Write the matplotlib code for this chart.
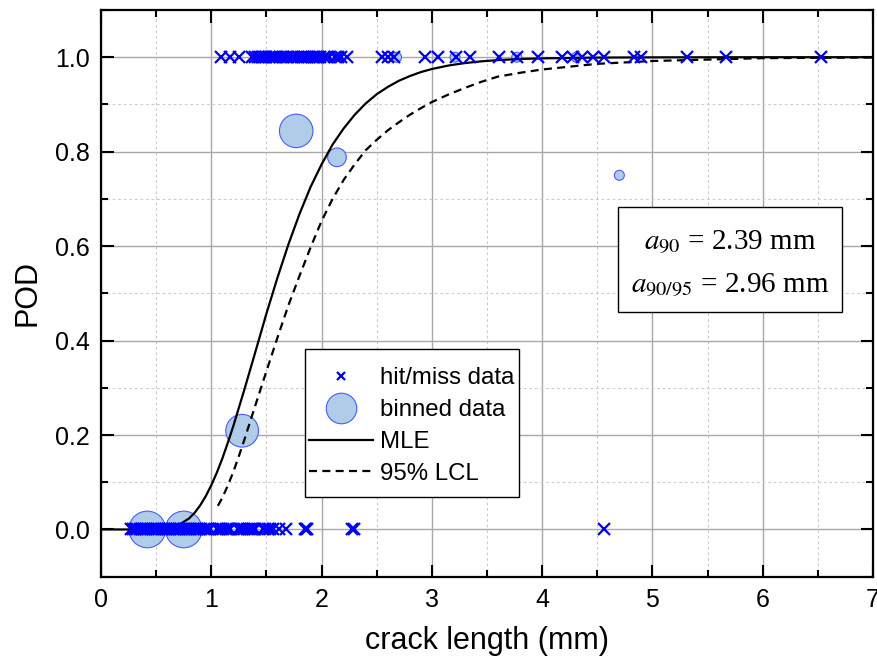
import numpy as np
import matplotlib
matplotlib.use("Agg")
import matplotlib.pyplot as plt
from matplotlib.ticker import MultipleLocator
from matplotlib.lines import Line2D
from matplotlib.patches import Rectangle

plt.rcParams['font.family'] = ['Liberation Sans', 'DejaVu Sans']
plt.rcParams['mathtext.fontset'] = 'stix'

# hit/miss data (crack length in mm)
hits = [1.09, 1.17, 1.25, 1.37, 1.40, 1.42, 1.44, 1.46, 1.48, 1.50, 1.52, 1.55,
        1.57, 1.59, 1.62, 1.65, 1.68, 1.70, 1.73, 1.75, 1.79, 1.81, 1.83, 1.85,
        1.87, 1.89, 1.91, 1.93, 1.95, 1.97, 1.99, 2.02, 2.05, 2.07, 2.12, 2.15,
        2.18, 2.23, 2.55, 2.60, 2.66, 2.94, 3.06, 3.22, 3.35, 3.61, 3.77, 3.96,
        4.18, 4.28, 4.36, 4.46, 4.56, 4.83, 4.90, 5.31, 5.67, 6.53]
misses = [0.27, 0.29, 0.31, 0.33, 0.35, 0.37, 0.39, 0.41, 0.43, 0.45, 0.47, 0.49,
          0.51, 0.53, 0.55, 0.57, 0.59, 0.61, 0.63, 0.65, 0.67, 0.69, 0.71, 0.73,
          0.75, 0.77, 0.79, 0.81, 0.83, 0.85, 0.87, 0.89, 0.91, 0.93, 0.95, 0.97,
          0.99, 1.05, 1.07, 1.09, 1.11, 1.13, 1.15, 1.17, 1.24, 1.26, 1.28, 1.30,
          1.32, 1.34, 1.36, 1.38, 1.40, 1.47, 1.49, 1.51, 1.53, 1.56, 1.61, 1.68,
          1.85, 1.86, 1.87, 2.28, 2.29, 4.56]

# binned data
bin_a = [0.42, 0.75, 1.28, 1.77, 2.14, 2.68, 3.21, 3.77, 4.31, 4.70]
bin_pod = [0.0, 0.0, 0.209, 0.844, 0.788, 1.0, 1.0, 1.0, 1.0, 0.75]
bin_n = [54, 54, 43, 45, 14, 4, 4, 4, 4, 4]

# MLE curve
mle_a = [0.0, 0.3, 0.5, 0.6, 0.7, 0.8, 0.85, 0.9, 0.95, 1.0, 1.05, 1.1, 1.15,
         1.2, 1.3, 1.4, 1.5, 1.6, 1.7, 1.8, 1.9, 2.0, 2.1, 2.2, 2.3, 2.4, 2.5,
         2.6, 2.7, 2.8, 2.9, 3.0, 3.15, 3.3, 3.45, 3.6, 3.8, 4.0, 4.5, 5.0,
         6.0, 7.0]
mle_pod = [0.0, 0.0, 0.0004, 0.0022, 0.0085, 0.0236, 0.0356, 0.0512, 0.0705,
           0.0936, 0.120, 0.150, 0.1835, 0.219, 0.296, 0.376, 0.457, 0.533,
           0.604, 0.668, 0.725, 0.773, 0.815, 0.849, 0.878, 0.902, 0.9216,
           0.937, 0.950, 0.960, 0.9685, 0.975, 0.9824, 0.9876, 0.9913, 0.9939,
           0.9962, 0.9976, 0.9992, 0.9997, 1.0, 1.0]

# 95% lower confidence limit
lcl_a = [1.06, 1.1, 1.15, 1.2, 1.25, 1.3, 1.4, 1.5, 1.6, 1.7, 1.8, 1.9, 2.0,
         2.1, 2.2, 2.3, 2.4, 2.5, 2.6, 2.7, 2.8, 2.9, 3.0, 3.15, 3.3, 3.45, 3.6,
         3.8, 4.0, 4.5, 5.0, 5.5, 6.0, 7.0]
lcl_pod = [0.05, 0.067, 0.093, 0.122, 0.155, 0.19, 0.263, 0.335, 0.406, 0.475,
           0.537, 0.597, 0.653, 0.70, 0.74, 0.773, 0.803, 0.825, 0.845, 0.862,
           0.878, 0.892, 0.905, 0.921, 0.935, 0.948, 0.959, 0.967, 0.974, 0.986,
           0.992, 0.995, 0.998, 0.9995]

a90 = 2.39
a9095 = 2.96

fig = plt.figure(figsize=(8.78, 6.66), dpi=100)
ax = fig.add_axes([0.1150, 0.1341, 0.8793, 0.8509])

ax.scatter(bin_a, bin_pod, s=np.array(bin_n) * 12.9, facecolor='#afcce8',
           edgecolor='#4a5cff', linewidth=0.8, zorder=2)
ax.plot(mle_a, mle_pod, color='black', lw=1.6, zorder=3)
ax.plot(lcl_a, lcl_pod, color='black', lw=1.6, ls=(0, (3.6, 2.4)), zorder=3)
ax.plot(hits, np.ones(len(hits)), 'x', color='blue', ms=8, mew=1.6, zorder=4)
ax.plot(misses, np.zeros(len(misses)), 'x', color='blue', ms=8, mew=1.6, zorder=4)

ax.set_xlim(0, 7)
ax.set_ylim(-0.1, 1.1)
ax.xaxis.set_major_locator(MultipleLocator(1))
ax.xaxis.set_minor_locator(MultipleLocator(0.5))
ax.set_yticks([0, 0.2, 0.4, 0.6, 0.8, 1.0])
ax.yaxis.set_minor_locator(MultipleLocator(0.1))
ax.yaxis.set_major_formatter(plt.FormatStrFormatter('%.1f'))

ax.grid(which='major', color='#a8a8a8', lw=1.0, zorder=0)
ax.grid(which='minor', color='#cccccc', lw=0.8, ls=(0, (2.5, 2.5)), zorder=0)
ax.set_axisbelow(True)

ax.tick_params(which='both', direction='in', top=True, right=True, width=1.5,
               labelsize=18, pad=8)
ax.tick_params(which='major', length=9)
ax.tick_params(which='minor', length=5)
for s in ax.spines.values():
    s.set_linewidth(1.6)

ax.set_xlabel('crack length (mm)', fontsize=22, labelpad=10)
ax.set_ylabel('POD', fontsize=22, labelpad=9)

# legend: frame drawn separately so the padding can differ per side
ax.add_patch(Rectangle((0.2642, 0.1406), 0.2773, 0.2607, transform=ax.transAxes,
                       fc='white', ec='black', lw=1.0, zorder=5))
handles = [
    Line2D([], [], ls='none', marker='x', color='blue', ms=6, mew=1.6),
    Line2D([], [], ls='none', marker='o', ms=22, mfc='#afcce8', mec='#4a5cff', mew=0.8),
    Line2D([], [], color='black', lw=1.6),
    Line2D([], [], color='black', lw=1.6, ls=(0, (3.6, 2.4))),
]
labels = ['hit/miss data', 'binned data', 'MLE', '95% LCL']
leg = ax.legend(handles, labels, loc='upper left', bbox_to_anchor=(0.263, 0.378),
                borderaxespad=0, fontsize=17.3, frameon=False, labelspacing=0.41,
                handlelength=2.67, handletextpad=0.3, borderpad=0.2)
leg.set_zorder(6)

# annotation box
ax.add_patch(Rectangle((0.6693, 0.4671), 0.2905, 0.1853, transform=ax.transAxes,
                       fc='white', ec='black', lw=1.0, zorder=5))
txt = r'$a_{90}$ = %.2f mm' % a90 + '\n' + r'$a_{90/95}$ = %.2f mm' % a9095
ax.text(0.8145, 0.551, txt, transform=ax.transAxes, ha='center', va='center',
        fontsize=21, family='Liberation Serif', linespacing=1.7, zorder=6)

plt.savefig('out.png', dpi=100)
